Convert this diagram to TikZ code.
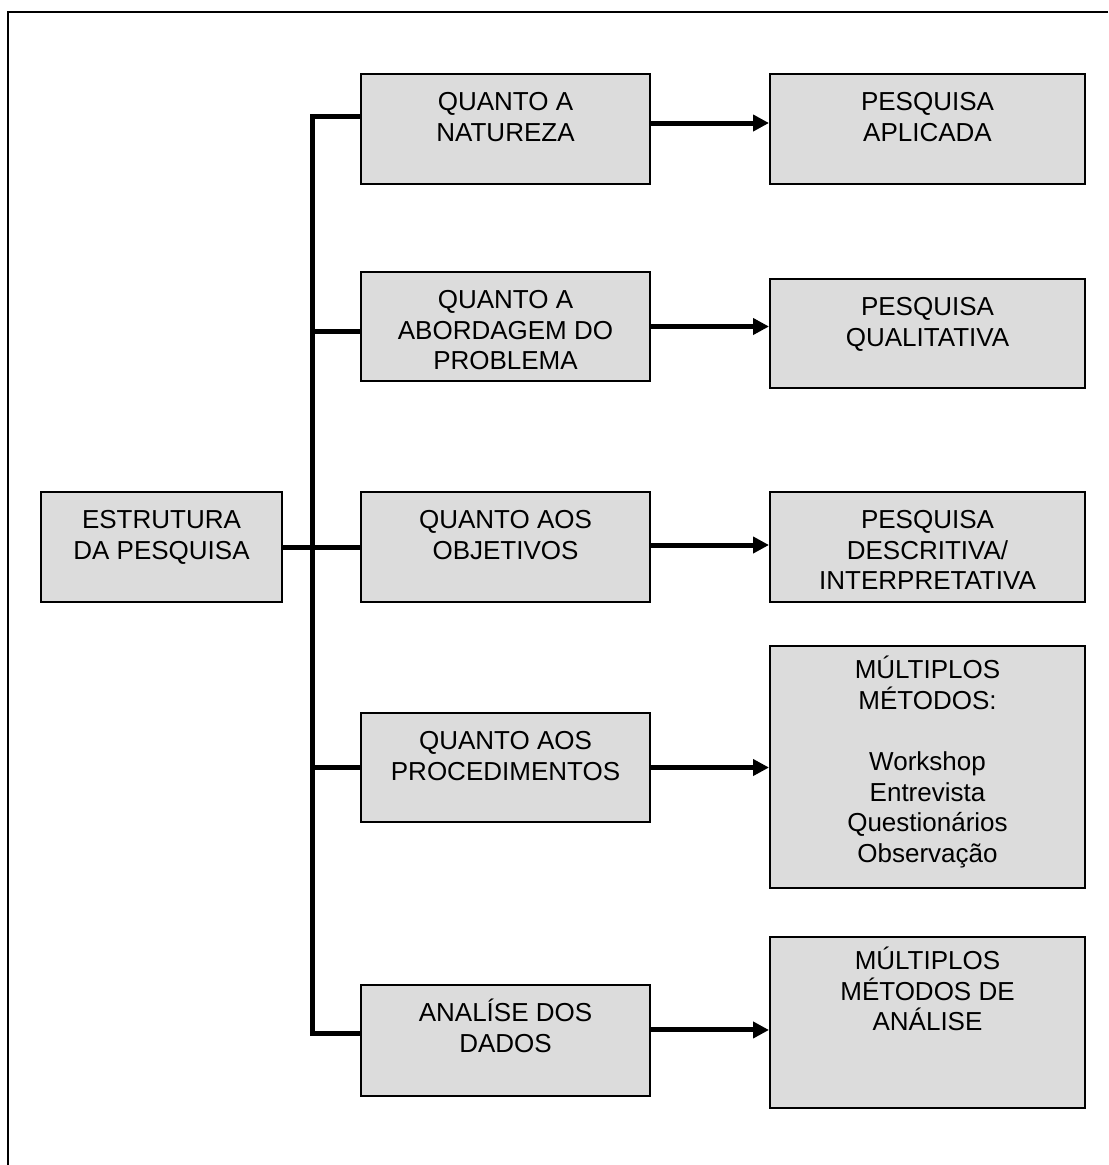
\documentclass[tikz,border=0pt]{standalone}
\usepackage{fontspec}
\setmainfont{Liberation Sans}
\usetikzlibrary{arrows.meta}
\definecolor{boxgray}{RGB}{220,220,220}
\newcommand\firststrut{\rule{0pt}{20pt}}
\begin{document}
\begin{tikzpicture}[x=0.75pt,y=-0.75pt,
  box/.style={draw=black, line width=1.5pt, fill=boxgray, inner sep=0pt},
  sz/.style 2 args={minimum width=#1*0.75pt, minimum height=#2*0.75pt},
  txt/.style={align=center, inner sep=0pt, anchor=north,
    font=\fontsize{19.5pt}{23pt}\selectfont},
  bus/.style={line width=3.75pt, line join=miter},
  arr/.style={line width=3.75pt, -{Triangle[length=12pt,width=12pt]}}]
\useasboundingbox (0,0) rectangle (1108,1165);
% outer frame (open at right and bottom)
\coordinate (ftr) at (1108,11.5);
\coordinate (ftl) at (7.5,11.5);
\coordinate (fbl) at (7.5,1165);
\draw[line width=1.5pt] (ftr) -- (ftl) -- (fbl);

% boxes
\node[box, sz={241}{110}] (E)  at (161.5,547) {};
\node[box, sz={289}{110}] (N1) at (505.5,129) {};
\node[box, sz={289}{109}] (N2) at (505.5,326.5) {};
\node[box, sz={289}{110}] (N3) at (505.5,547) {};
\node[box, sz={289}{109}] (N4) at (505.5,767.5) {};
\node[box, sz={289}{111}] (N5) at (505.5,1040.5) {};
\node[box, sz={315}{110}] (R1) at (927.5,129) {};
\node[box, sz={315}{109}] (R2) at (927.5,333.5) {};
\node[box, sz={315}{110}] (R3) at (927.5,547) {};
\node[box, sz={315}{242}] (R4) at (927.5,767) {};
\node[box, sz={315}{171}] (R5) at (927.5,1022.5) {};

% texts (first baseline about 36 px below the box top)
\node[txt] (Et)  at ([yshift=-8pt]E.north)  {\firststrut ESTRUTURA\\DA PESQUISA};
\node[txt] (N1t) at ([yshift=-8pt]N1.north) {\firststrut QUANTO A\\NATUREZA};
\node[txt] (N2t) at ([yshift=-8pt]N2.north) {\firststrut QUANTO A\\ABORDAGEM DO\\PROBLEMA};
\node[txt] (N3t) at ([yshift=-8pt]N3.north) {\firststrut QUANTO AOS\\OBJETIVOS};
\node[txt] (N4t) at ([yshift=-8pt]N4.north) {\firststrut QUANTO AOS\\PROCEDIMENTOS};
\node[txt] (N5t) at ([yshift=-8pt]N5.north) {\firststrut ANALÍSE DOS\\DADOS};
\node[txt] (R1t) at ([yshift=-8pt]R1.north) {\firststrut PESQUISA\\APLICADA};
\node[txt] (R2t) at ([yshift=-8pt]R2.north) {\firststrut PESQUISA\\QUALITATIVA};
\node[txt] (R3t) at ([yshift=-8pt]R3.north) {\firststrut PESQUISA\\DESCRITIVA/\\INTERPRETATIVA};
\node[txt] (R4t) at ([yshift=-5pt]R4.north) {\firststrut MÚLTIPLOS\\MÉTODOS:\\[23pt]Workshop\\Entrevista\\Questionários\\Observação};
\node[txt] (R5t) at ([yshift=-5pt]R5.north) {\firststrut MÚLTIPLOS\\MÉTODOS DE\\ANÁLISE};

% bus
\coordinate (b1) at ([yshift=9.75pt]N1.west);
\coordinate (bt) at (312,0 |- b1);
\coordinate (b5) at ([yshift=5.6pt]N5.west);
\coordinate (bb) at (b5 -| bt);
\draw[bus] (b1) -- (bt) -- (bb) -- (b5);
\coordinate (b2) at ([yshift=-4.1pt]N2.west);
\draw[bus] (b2) -- (b2 -| bt);
\draw[bus] (E.east) -- (N3.west);
\draw[bus] (N4.west) -- (N4.west -| bt);

% arrows
\coordinate (a1) at ([yshift=4.5pt]N1.east);
\draw[arr] (a1) -- (a1 -| R1.west);
\draw[arr] (N2.east) -- (N2.east -| R2.west);
\coordinate (a3) at ([yshift=1.5pt]N3.east);
\draw[arr] (a3) -- (a3 -| R3.west);
\draw[arr] (N4.east) -- (N4.east -| R4.west);
\coordinate (a5) at ([yshift=7.9pt]N5.east);
\draw[arr] (a5) -- (a5 -| R5.west);
\end{tikzpicture}
\end{document}
